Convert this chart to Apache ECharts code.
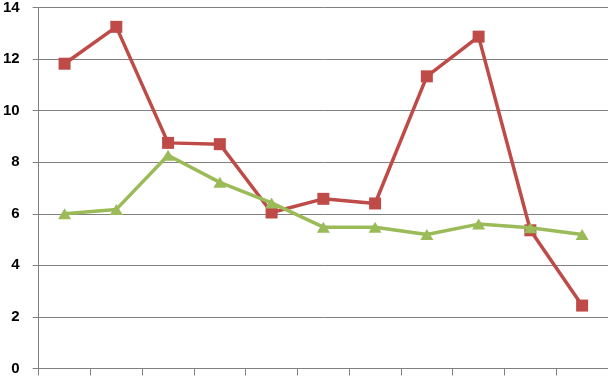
<!DOCTYPE html>
<html>
<head>
<meta charset="utf-8">
<script src="https://cdn.jsdelivr.net/npm/echarts@6/dist/echarts.min.js"></script>
<style>html,body{margin:0;padding:0;background:#fff}#c{width:608px;height:376px}</style>
</head>
<body>
<div id="c"></div>
<script>
const categories = ['1','2','3','4','5','6','7','8','9','10','11'];
const redValues = [11.82, 13.25, 8.75, 8.7, 6.05, 6.58, 6.4, 11.33, 12.87, 5.36, 2.44];
const greenValues = [6.0, 6.17, 8.27, 7.22, 6.42, 5.48, 5.48, 5.2, 5.6, 5.46, 5.2];
const yTicks = [0, 2, 4, 6, 8, 10, 12, 14];

const chart = echarts.init(document.getElementById('c'));
chart.setOption({
  animation: false,
  grid: { left: 37, top: 5, width: 572, height: 364.5 },
  xAxis: {
    type: 'category',
    data: categories,
    boundaryGap: true,
    axisLine: { lineStyle: { color: '#808080', width: 1 } },
    axisTick: { show: true, length: 7, interval: 0, lineStyle: { color: '#808080' } },
    axisLabel: { show: false },
    splitLine: { show: false }
  },
  yAxis: {
    type: 'value',
    min: yTicks[0],
    max: yTicks[yTicks.length - 1],
    interval: 2,
    axisLine: { show: true, lineStyle: { color: '#808080', width: 1 } },
    axisTick: { show: true, length: 6, lineStyle: { color: '#808080' } },
    axisLabel: { color: '#000', fontSize: 15, fontWeight: 'bold', fontFamily: 'Liberation Sans, Arial', margin: 19 },
    splitLine: { show: true, lineStyle: { color: '#808080', width: 1 } }
  },
  series: [
    {
      type: 'line',
      data: redValues,
      symbol: 'rect',
      symbolSize: 12,
      lineStyle: { color: '#BE4B48', width: 3.5 },
      itemStyle: { color: '#BE4B48' },
      z: 2
    },
    {
      type: 'line',
      data: greenValues,
      symbol: 'triangle',
      symbolSize: [13, 11],
      lineStyle: { color: '#9BBB59', width: 3.5 },
      itemStyle: { color: '#9BBB59' },
      z: 3
    }
  ]
});
</script>
</body>
</html>
